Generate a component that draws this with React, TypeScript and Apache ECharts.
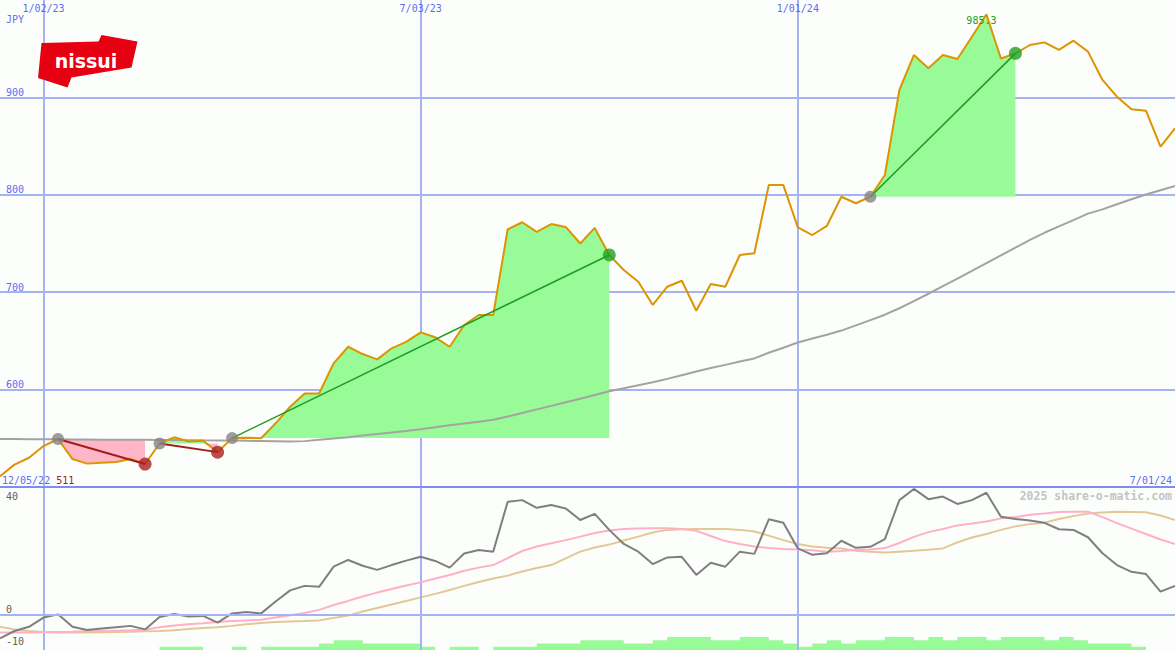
import React, { useEffect, useRef } from 'react';
import * as echarts from 'echarts';

// weekly categories from 12/12/22 to 7/01/24
const firstWeek = Date.UTC(2022, 11, 12);
const weeks: string[] = Array.from({ length: 82 }, (_, i) => {
  const d = new Date(firstWeek + i * 7 * 86400000);
  return `${d.getUTCMonth() + 1}/${String(d.getUTCDate()).padStart(2, '0')}/${String(d.getUTCFullYear() % 100).padStart(2, '0')}`;
});
const shownDates = ['1/02/23', '7/03/23', '1/01/24'];

const price = [
  511, 523, 530, 542, 549.3, 528.7, 524, 525, 525.7, 528.7,
  523.6, 544.7, 551, 546.7, 547.5, 535.8, 550.2, 550.6, 550, 565.4,
  582.4, 596, 596, 627, 644, 636.5, 631, 642.4, 649, 658.8,
  653.7, 644, 666.3, 676.6, 676.6, 764.6, 771.8, 762, 770, 767,
  750, 766, 738.2, 722.8, 710.8, 686.9, 705.6, 711.8, 681, 708.4,
  705.6, 738.2, 740, 810, 810, 766.6, 758.7, 768, 798, 791.3,
  798, 820.3, 907.6, 943.5, 929.9, 943.5, 939.4, 962.3, 985.3, 940,
  945.2, 953.8, 956.5, 948.7, 958.2, 947, 917.9, 900.7, 887.8, 886.3,
  849.4, 868.3,
];

const movingAvg = [
  549.3, 549.2, 549.1, 549.0, 548.9, 548.8, 548.7, 548.6, 548.5, 548.5,
  548.4, 548.3, 548.2, 548.1, 547.9, 547.8, 547.7, 547.4, 547.2, 546.9,
  546.6, 547.1, 548.4, 549.7, 551.2, 552.8, 554.3, 555.9, 557.6, 559.4,
  561.4, 563.3, 565.2, 567.1, 569.0, 572.4, 576.0, 579.7, 583.3, 587.0,
  590.6, 594.5, 598.3, 601.3, 604.4, 607.5, 611.0, 614.8, 618.6, 622.1,
  625.4, 628.8, 632.0, 637.8, 643.0, 648.4, 652.4, 656.3, 660.6, 665.9,
  671.3, 676.9, 683.5, 690.8, 698.4, 706.2, 714.0, 721.8, 729.8, 737.8,
  745.8, 753.8, 761.0, 767.6, 774.0, 780.7, 785.0, 790.3, 795.4, 800.3,
  804.7, 809.0,
];

const oscGray = [
  -7.3, -5.0, -3.7, -0.8, 0.2, -3.7, -4.7, -4.2, -3.8, -3.4,
  -4.5, -0.6, 0.3, -0.5, -0.3, -2.4, 0.5, 0.9, 0.5, 4.2,
  7.7, 9.1, 8.8, 15.1, 17.2, 15.4, 14.1, 15.6, 17.0, 18.2,
  16.9, 14.8, 19.2, 20.3, 19.8, 35.4, 35.9, 33.5, 34.4, 33.3,
  29.7, 31.6, 26.6, 22.2, 19.8, 15.9, 18.0, 18.2, 12.5, 16.3,
  15.1, 19.8, 19.1, 29.9, 28.8, 20.8, 18.8, 19.3, 23.2, 21.0,
  21.3, 23.7, 35.9, 39.4, 36.2, 37.0, 34.7, 35.9, 38.2, 30.7,
  30.0, 29.5, 28.8, 26.8, 26.6, 24.3, 19.3, 15.6, 13.5, 12.8,
  7.3, 9.1,
];

const oscPink = [
  -5.5, -5.5, -5.5, -5.4, -5.3, -5.2, -5.0, -4.9, -4.9, -4.8,
  -4.6, -3.8, -3.3, -2.9, -2.6, -2.2, -1.9, -1.7, -1.5, -0.8,
  -0.1, 0.6, 1.6, 3.1, 4.4, 5.8, 7.0, 8.1, 9.2, 10.2,
  11.4, 12.5, 13.8, 14.8, 15.6, 17.8, 20.0, 21.4, 22.4, 23.4,
  24.5, 25.6, 26.4, 26.9, 27.0, 27.1, 27.1, 26.9, 26.3, 24.7,
  23.1, 22.2, 21.4, 20.9, 20.6, 20.5, 20.2, 19.8, 20.0, 20.3,
  20.5, 20.9, 22.5, 24.4, 25.9, 26.9, 28.0, 28.6, 29.2, 30.2,
  30.6, 31.3, 31.7, 32.2, 32.3, 32.3, 30.6, 28.7, 27.0, 25.3,
  23.6, 22.2,
];

const oscTan = [
  -3.7, -4.5, -5.0, -5.3, -5.5, -5.5, -5.5, -5.4, -5.3, -5.2,
  -5.1, -5.0, -4.8, -4.4, -4.1, -3.8, -3.4, -2.9, -2.5, -2.2,
  -2.0, -1.9, -1.7, -0.9, -0.2, 1.1, 2.2, 3.3, 4.4, 5.5,
  6.6, 7.8, 9.1, 10.3, 11.4, 12.3, 13.6, 14.7, 15.6, 17.7,
  19.8, 21.1, 22.0, 23.3, 24.5, 25.8, 26.6, 26.8, 26.9, 26.9,
  26.9, 26.6, 26.1, 24.8, 23.4, 22.2, 21.4, 21.0, 20.8, 20.1,
  19.8, 19.5, 19.8, 20.1, 20.4, 20.8, 22.7, 24.2, 25.3, 26.6,
  27.7, 28.4, 28.8, 30.0, 30.9, 31.7, 32.0, 32.3, 32.2, 32.1,
  31.1, 29.7,
];

const barLevels = [
  0, 0, 0, 0, 0, 0, 0, 0, 0, 0,
  0, 1, 1, 1, 0, 0, 1, 0, 1, 1,
  1, 1, 2, 3, 3, 2, 2, 2, 2, 1,
  0, 1, 1, 0, 1, 1, 1, 2, 2, 2,
  3, 3, 3, 2, 2, 3, 4, 4, 4, 3,
  3, 4, 4, 3, 2, 1, 2, 3, 2, 3,
  3, 4, 4, 3, 4, 3, 4, 4, 3, 4,
  4, 4, 3, 4, 3, 2, 2, 2, 1, 0,
  0, 0,
];

// [start week index, end week index]
const trades: [number, number][] = [
  [4, 10],
  [11, 15],
  [16, 42],
  [60, 70],
];

const BLUE = '#5b6ef2';
const GRID = '#a6b2f2';
const DIV = '#7f8df0';
const MONO = 'DejaVu Sans Mono';
const GREEN_FILL = '#98fb98';
const PINK_FILL = '#ffb6c6';

function buildOption() {
  const series: any[] = [];

  // fills between price and trade start level
  trades.forEach(([a, b]) => {
    const base = price[a];
    let segStart = a;
    for (let k = a; k < b; k++) {
      const above = (price[k] + price[k + 1]) / 2 >= base;
      const nextAbove = k + 1 < b ? (price[k + 1] + price[k + 2]) / 2 >= base : null;
      if (k + 1 === b || nextAbove !== above) {
        const s0 = segStart;
        const s1 = k + 1;
        series.push({
          type: 'line',
          xAxisIndex: 0,
          yAxisIndex: 0,
          data: price.map((v, i) => (i >= s0 && i <= s1 ? v : '-')),
          symbol: 'none',
          silent: true,
          lineStyle: { width: 0, opacity: 0 },
          areaStyle: { color: above ? GREEN_FILL : PINK_FILL, opacity: 1, origin: base },
          z: 1,
        });
        segStart = k + 1;
      }
    }
  });

  series.push({
    type: 'line',
    xAxisIndex: 0,
    yAxisIndex: 0,
    data: movingAvg,
    symbol: 'none',
    silent: true,
    lineStyle: { color: '#a3a3a3', width: 2 },
    z: 2,
  });

  series.push({
    type: 'line',
    xAxisIndex: 0,
    yAxisIndex: 0,
    data: price,
    symbol: 'none',
    silent: true,
    lineStyle: { color: '#dc9500', width: 2 },
    z: 3,
    markPoint: {
      symbol: 'circle',
      symbolSize: 1,
      itemStyle: { color: 'rgba(0,0,0,0)' },
      label: {
        show: true,
        position: 'inside',
        offset: [-5, 6],
        color: '#22a022',
        fontFamily: MONO,
        fontSize: 10,
        formatter: (p: any) => Number(p.value).toFixed(1),
      },
      data: [{ type: 'max' }],
    },
  });

  trades.forEach(([a, b]) => {
    const up = price[b] >= price[a];
    series.push({
      type: 'line',
      xAxisIndex: 0,
      yAxisIndex: 0,
      data: [
        [a, price[a]],
        [b, price[b]],
      ],
      symbol: 'none',
      silent: true,
      lineStyle: { color: up ? '#1f9a1f' : '#a31c1c', width: up ? 1.5 : 2 },
      z: 4,
    });
    series.push({
      type: 'scatter',
      xAxisIndex: 0,
      yAxisIndex: 0,
      data: [[a, price[a]]],
      symbolSize: 12,
      silent: true,
      itemStyle: { color: '#858585' },
      z: 5,
    });
    series.push({
      type: 'scatter',
      xAxisIndex: 0,
      yAxisIndex: 0,
      data: [[b, price[b]]],
      symbolSize: 13,
      silent: true,
      itemStyle: { color: up ? '#22a022' : '#ab1f1f' },
      z: 5,
    });
  });

  // lower panel
  series.push({
    type: 'line',
    xAxisIndex: 1,
    yAxisIndex: 2,
    data: barLevels,
    step: 'end',
    symbol: 'none',
    silent: true,
    lineStyle: { width: 0, opacity: 0 },
    areaStyle: { color: GREEN_FILL, opacity: 1 },
    z: 1,
  });
  series.push({
    type: 'line',
    xAxisIndex: 1,
    yAxisIndex: 1,
    data: [],
    silent: true,
    z: 1,
    markLine: {
      silent: true,
      symbol: 'none',
      label: { show: false },
      lineStyle: { color: GRID, width: 2, type: 'solid' },
      data: [{ yAxis: 0 }],
    },
  });
  series.push({
    type: 'line', xAxisIndex: 1, yAxisIndex: 1, data: oscTan, symbol: 'none', silent: true,
    lineStyle: { color: '#e3c896', width: 2 }, z: 2,
  });
  series.push({
    type: 'line', xAxisIndex: 1, yAxisIndex: 1, data: oscPink, symbol: 'none', silent: true,
    lineStyle: { color: '#ffb0c8', width: 2 }, z: 3,
  });
  series.push({
    type: 'line', xAxisIndex: 1, yAxisIndex: 1, data: oscGray, symbol: 'none', silent: true,
    lineStyle: { color: '#7f7f7f', width: 2 }, z: 4,
  });

  const dateFilter = (_i: number, v: string) => shownDates.includes(v);

  return {
    animation: false,
    backgroundColor: '#fcfefc',
    grid: [
      { left: 0, right: 0, top: 0, height: 487 },
      { left: 0, right: 0, top: 487, height: 163 },
    ],
    xAxis: [
      {
        type: 'category',
        gridIndex: 0,
        data: weeks,
        boundaryGap: false,
        position: 'top',
        axisLine: { show: false },
        axisTick: { show: false },
        axisLabel: {
          inside: true,
          interval: dateFilter,
          color: BLUE,
          fontFamily: MONO,
          fontSize: 10,
          margin: 3,
        },
        splitLine: { show: true, interval: dateFilter, lineStyle: { color: GRID, width: 2 } },
      },
      {
        type: 'category',
        gridIndex: 1,
        data: weeks,
        boundaryGap: false,
        position: 'top',
        axisLine: { show: true, onZero: false, lineStyle: { color: DIV, width: 2 } },
        axisTick: { show: false },
        axisLabel: { show: false },
        splitLine: { show: true, interval: dateFilter, lineStyle: { color: GRID, width: 2 } },
        z: 3,
      },
    ],
    yAxis: [
      {
        type: 'value',
        gridIndex: 0,
        min: 500,
        max: 1000,
        interval: 100,
        axisLine: { show: false },
        axisTick: { show: false },
        axisLabel: {
          inside: true,
          margin: 6,
          verticalAlign: 'bottom',
          color: BLUE,
          fontFamily: MONO,
          fontSize: 10,
          showMinLabel: false,
          showMaxLabel: false,
        },
        splitLine: {
          show: true,
          showMinLine: false,
          showMaxLine: false,
          lineStyle: { color: GRID, width: 2 },
        },
      },
      {
        type: 'value',
        gridIndex: 1,
        min: -10.94,
        max: 40,
        axisLine: { show: false },
        axisTick: { show: false },
        splitLine: { show: false },
        axisLabel: {
          inside: true,
          margin: 6,
          verticalAlign: 'bottom',
          color: '#606060',
          fontFamily: MONO,
          fontSize: 10,
          customValues: [0, -10],
        },
      },
      {
        type: 'value',
        gridIndex: 1,
        min: 0,
        max: 50,
        show: false,
      },
    ],
    graphic: [
      {
        type: 'polygon',
        shape: {
          points: [
            [41.5, 43], [98.5, 41.5], [101.5, 35], [137.5, 41.5],
            [131.5, 67.5], [71.5, 77.5], [67.5, 87.5], [38, 78],
          ],
        },
        style: { fill: '#e60012' },
        z: 20,
      },
      {
        type: 'text',
        x: 86,
        y: 61,
        style: {
          text: 'nissui',
          fill: '#ffffff',
          font: 'bold 19px "DejaVu Sans"',
          textAlign: 'center',
          textVerticalAlign: 'middle',
        },
        z: 21,
      },
      {
        type: 'text',
        x: 6,
        y: 14,
        style: { text: 'JPY', fill: BLUE, font: `10px "${MONO}"` },
        z: 20,
      },
      {
        type: 'text',
        x: 2,
        y: 475,
        style: {
          text: '{d|12/05/22} {v|511}',
          rich: {
            d: { fill: BLUE, font: `10px "${MONO}"` },
            v: { fill: '#a31c1c', font: `10px "${MONO}"` },
          },
          font: `10px "${MONO}"`,
        },
        z: 20,
      },
      {
        type: 'text',
        x: 1172,
        y: 475,
        style: { text: '7/01/24', fill: BLUE, font: `10px "${MONO}"`, textAlign: 'right' },
        z: 20,
      },
      {
        type: 'text',
        x: 1172,
        y: 490,
        style: {
          text: '2025 share-o-matic.com',
          fill: '#c4c4c4',
          font: `bold 11.5px "${MONO}"`,
          textAlign: 'right',
        },
        z: 20,
      },
      {
        type: 'text',
        x: 6,
        y: 491,
        style: { text: '40', fill: '#606060', font: `10px "${MONO}"` },
        z: 20,
      },
    ],
    series,
  };
}

export default function App() {
  const ref = useRef<HTMLDivElement>(null);
  useEffect(() => {
    document.body.style.margin = '0';
    if (!ref.current) return;
    const chart = echarts.init(ref.current, undefined, { renderer: 'svg' });
    chart.setOption(buildOption() as any);
    return () => chart.dispose();
  }, []);
  return (
    <div
      ref={ref}
      style={{ position: 'absolute', left: 0, top: 0, width: 1175, height: 650 }}
    />
  );
}
